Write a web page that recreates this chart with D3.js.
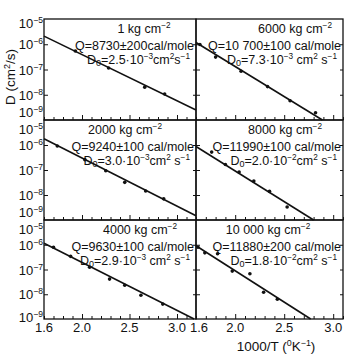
<!DOCTYPE html>
<meta charset="utf-8">
<style>
body { margin: 0; background: #fff; }
svg text { font-family: "Liberation Sans", Arimo, Arial, sans-serif; fill: #111; }
.frame { fill: none; stroke: #111; stroke-width: 1.3; }
.ticks line { stroke: #111; stroke-width: 1; }
.ticks path { display: none; }
.fit { fill: none; stroke: #111; stroke-width: 1.6; }
.pt { fill: #111; }
</style>
<body>
<script src="https://cdnjs.cloudflare.com/ajax/libs/d3/7.8.5/d3.min.js"></script>
<script>

// ---------------- data ----------------
// panels in reading order: row by row, left then right
var titleLabels = ["1 kg cm^{−2}", "6000 kg cm^{−2}", "2000 kg cm^{−2}",
                   "8000 kg cm^{−2}", "4000 kg cm^{−2}", "10 000 kg cm^{−2}"]

var qLabels = ["Q=8730±200cal/mole", "Q=10 700±100 cal/mole", "Q=9240±100 cal/mole",
               "Q=11990±100 cal/mole", "Q=9630±100 cal/mole", "Q=11880±200 cal/mole"]

var d0Labels = ["D_{0}=2.5·10^{−3}cm^{2}s^{−1}", "D_{0}=7.3·10^{−3} cm^{2} s^{−1}",
                "D_{0}=3.0·10^{−3}cm^{2} s^{−1}", "D_{0}=2.0·10^{−2}cm^{2} s^{−1}",
                "D_{0}=2.9·10^{−3} cm^{2} s^{−1}", "D_{0}=1.8·10^{−2}cm^{2} s^{−1}"]

// 1000/T of the measured points
var invT = [
    [1.93, 2.28, 2.66, 2.87],
    [1.64, 1.80, 2.06, 2.33, 2.56, 2.82],
    [1.74, 2.03, 2.25, 2.45, 2.67, 2.86],
    [1.76, 1.90, 2.04, 2.19, 2.35, 2.53],
    [1.70, 1.88, 2.08, 2.29, 2.45, 2.62, 2.85],
    [1.62, 1.69, 1.82, 1.97, 2.15, 2.29, 2.43]
]

// D (cm2/s) of the measured points
var diffD = [
    [5.4e-7, 1.15e-7, 2.0e-8, 1.07e-8],
    [9.8e-7, 3.1e-7, 8.5e-8, 2.1e-8, 5.8e-9, 1.95e-9],
    [9.1e-7, 2.6e-7, 9.3e-8, 3.2e-8, 1.45e-8, 7.0e-9],
    [5.2e-7, 1.65e-7, 8.3e-8, 3.6e-8, 1.4e-8, 3.3e-9],
    [7.9e-7, 3.4e-7, 1.24e-7, 4.1e-8, 2.3e-8, 9.1e-9, 4.0e-9],
    [7.9e-7, 4.7e-7, 4.3e-7, 8.6e-8, 6.7e-8, 1.2e-8, 6.3e-9]
]

// ends of the drawn Arrhenius lines [1000/T, D]
var fitEnds = [
    [[1.6, 2.1e-6], [3.2, 2.5e-9]],
    [[1.6, 1.17e-6], [2.89, 1e-9]],
    [[1.6, 1.77e-6], [3.2, 1.48e-9]],
    [[1.6, 8.7e-7], [2.80, 1e-9]],
    [[1.6, 1.15e-6], [3.18, 1e-9]],
    [[1.6, 9.1e-7], [2.77, 1e-9]]
]

var decades = [1e-5, 1e-6, 1e-7, 1e-8, 1e-9]
var xMajor = [1.6, 2.0, 2.5, 3.0]
var xMajorText = ["1.6", "2.0", "2.5", "3.0"]

// ---------------- layout ----------------
var width = 344, height = 356
var colX = [[44, 196], [196, 343]]
var rowY = [[19, 120], [120, 220], [220, 319]]
var xDomains = [[1.6, 3.2], [1.6, 3.1]]
var titleDx = [100, 99, 81, 89, 96, 72]
var fs = 12.5

var svg = d3.select('body').append('svg')
    .attr('width', width)
    .attr('height', height)

// text with ^{sup} and _{sub} parts
function rich(text, str, size) {
    var parts = str.split(/(\^\{[^}]*\}|_\{[^}]*\})/)
    var shift = 0
    parts.forEach(function (p) {
        if (!p) return
        var t = text.append('tspan')
        var target = 0
        if (p[0] === '^') {
            target = -size * 0.38
            t.attr('font-size', size * 0.66).text(p.slice(2, -1))
        } else if (p[0] === '_') {
            target = size * 0.22
            t.attr('font-size', size * 0.72).text(p.slice(2, -1))
        } else {
            t.text(p)
        }
        if (target !== shift) t.attr('dy', target - shift)
        shift = target
    })
    return text
}

function minorTicks(dom) {
    var out = []
    for (var v = 16; v <= Math.round(dom[1] * 10); v++) out.push(v / 10)
    return out
}

d3.range(6).forEach(function (i) {
    var col = i % 2, row = Math.floor(i / 2)
    var x0 = colX[col][0], x1 = colX[col][1]
    var y0 = rowY[row][0], y1 = rowY[row][1]

    var x = d3.scaleLinear().domain(xDomains[col]).range([x0, x1])
    var y = d3.scaleLog().domain([1e-9, 1e-5]).range([y1, y0])

    var g = svg.append('g')

    // inward ticks
    g.append('g').attr('class', 'ticks')
        .attr('transform', 'translate(0,' + y1 + ')')
        .call(d3.axisBottom(x).tickValues(minorTicks(xDomains[col]).filter(function (v) {
            return xMajor.indexOf(v) < 0 || v === 1.6
        })).tickSize(-3).tickFormat(''))
    g.append('g').attr('class', 'ticks')
        .attr('transform', 'translate(0,' + y1 + ')')
        .call(d3.axisBottom(x).tickValues(xMajor.slice(1)).tickSize(-5).tickFormat(''))
    g.append('g').attr('class', 'ticks')
        .attr('transform', 'translate(' + x0 + ',0)')
        .call(d3.axisLeft(y).tickValues(decades.slice(1, 4)).tickSize(-4).tickFormat(''))
    g.append('g').attr('class', 'ticks')
        .attr('transform', 'translate(' + x1 + ',0)')
        .call(d3.axisRight(y).tickValues(decades.slice(1, 4)).tickSize(-3).tickFormat(''))

    g.append('rect').attr('class', 'frame')
        .attr('x', x0).attr('y', y0)
        .attr('width', x1 - x0).attr('height', y1 - y0)

    // fit line
    g.append('path').attr('class', 'fit')
        .attr('d', d3.line()
            .x(function (d) { return x(d[0]) })
            .y(function (d) { return y(d[1]) })(fitEnds[i]))

    // points
    g.selectAll('circle.pt')
        .data(invT[i].map(function (v, k) { return [v, diffD[i][k]] }))
        .enter().append('circle')
        .attr('class', 'pt')
        .attr('cx', function (d) { return x(d[0]) })
        .attr('cy', function (d) { return y(d[1]) })
        .attr('r', 1.8)

    // annotations
    rich(g.append('text').attr('x', x0 + titleDx[i]).attr('y', y0 + 14)
        .attr('text-anchor', 'middle').attr('font-size', fs), titleLabels[i], fs)
    rich(g.append('text').attr('x', x1 - 2).attr('y', y0 + 30.5)
        .attr('text-anchor', 'end').attr('font-size', fs), qLabels[i], fs)
    rich(g.append('text').attr('x', x1 - 6).attr('y', y0 + 44.5)
        .attr('text-anchor', 'end').attr('font-size', fs), d0Labels[i], fs)

    // y tick labels (left column only)
    if (col === 0) {
        decades.forEach(function (v, k) {
            var dy = 5
            if (k === 0) dy = row === 0 ? 9 : 14
            if (k === 4) dy = row === 2 ? 3 : -3
            rich(svg.append('text')
                .attr('x', x0 - 1).attr('y', y(v) + dy)
                .attr('text-anchor', 'end').attr('font-size', 13),
                '10^{−' + (-Math.round(Math.log10(v))) + '}', 13)
        })
    }

    // x tick labels on the bottom row
    if (row === 2) {
        xMajor.forEach(function (v, k) {
            svg.append('text')
                .attr('x', x(v) + (col === 1 && k === 0 ? 3 : 0))
                .attr('y', y1 + 13)
                .attr('text-anchor', 'middle')
                .attr('font-size', 13)
                .text(xMajorText[k])
        })
    }
})

// axis titles
rich(svg.append('text')
    .attr('transform', 'translate(15,77) rotate(-90)')
    .attr('text-anchor', 'middle')
    .attr('font-size', 13.5), 'D (cm^{2}/s)', 13.5)

rich(svg.append('text')
    .attr('x', 276).attr('y', 351)
    .attr('text-anchor', 'middle')
    .attr('font-size', 13.5), '1000/T (^{0}K^{−1})', 13.5)

</script>
</body>
